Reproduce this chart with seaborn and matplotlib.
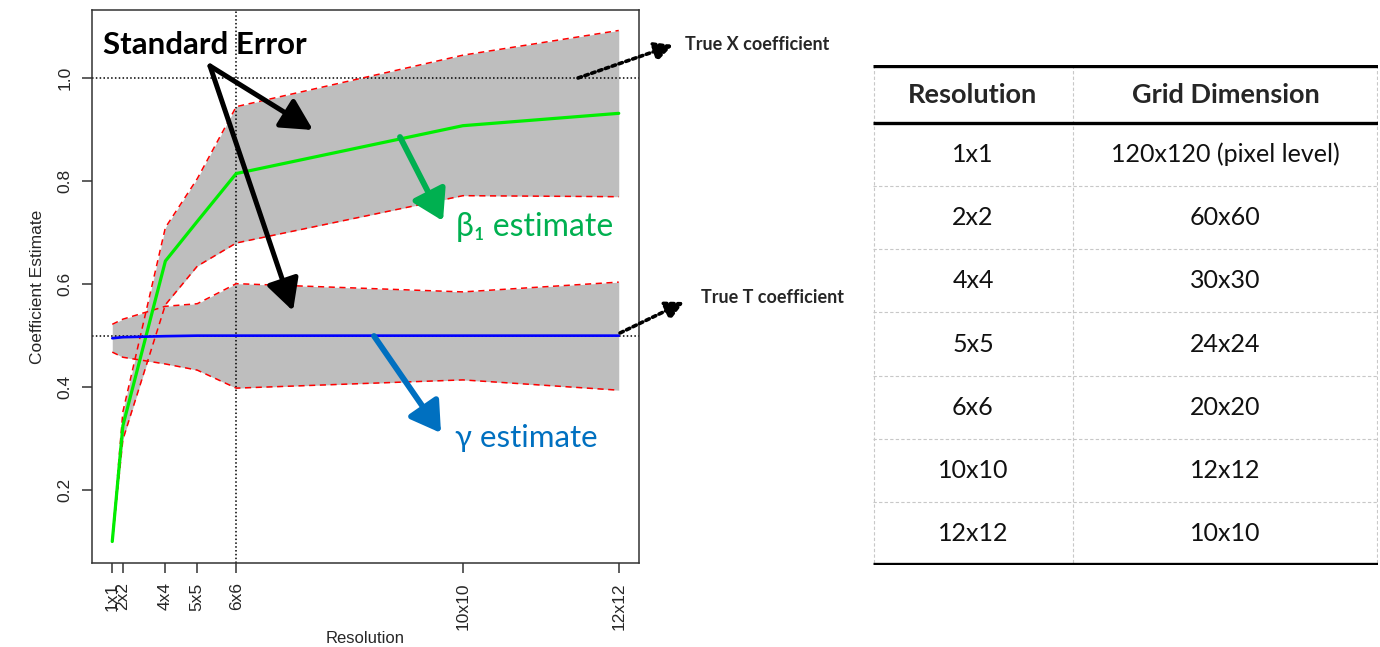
import numpy as np
import pandas as pd
import matplotlib
matplotlib.use("Agg")
import matplotlib.pyplot as plt
import seaborn as sns

# ---------------- data ----------------
res = [1, 2, 4, 5, 6, 10, 12]
res_labels = ["1x1", "2x2", "4x4", "5x5", "6x6", "10x10", "12x12"]
beta_est = [0.100, 0.325, 0.645, 0.722, 0.815, 0.908, 0.932]
beta_upper = [0.103, 0.352, 0.710, 0.805, 0.945, 1.045, 1.093]
beta_lower = [0.098, 0.298, 0.560, 0.635, 0.680, 0.772, 0.770]
gamma_est = [0.495, 0.497, 0.499, 0.500, 0.500, 0.500, 0.500]
gamma_upper = [0.522, 0.532, 0.557, 0.562, 0.601, 0.585, 0.604]
gamma_lower = [0.468, 0.458, 0.445, 0.433, 0.398, 0.414, 0.394]
true_x = 1.0
true_t = 0.5
marked_res = 6

table_header = ["Resolution", "Grid Dimension"]
table_res = ["1x1", "2x2", "4x4", "5x5", "6x6", "10x10", "12x12"]
table_grid = ["120x120 (pixel level)", "60x60", "30x30", "24x24", "20x20", "12x12", "10x10"]

# ---------------- style ----------------
sns.set_style("ticks")
plt.rcParams["font.family"] = ["Liberation Sans", "DejaVu Sans"]
plt.rcParams["axes.edgecolor"] = "#333333"
plt.rcParams["axes.linewidth"] = 1.1

W, H = 1380, 647
fig = plt.figure(figsize=(W / 100, H / 100), dpi=100)
fig.patch.set_facecolor("white")


def fp(x, y):
    return (x / W, 1 - y / H)


ax = fig.add_axes([92 / W, (H - 563) / H, (639 - 92) / W, (563 - 10) / H])

df = pd.DataFrame({
    "res": res,
    "beta": beta_est, "beta_hi": beta_upper, "beta_lo": beta_lower,
    "gamma": gamma_est, "gamma_hi": gamma_upper, "gamma_lo": gamma_lower,
})

grey = "#BEBEBE"
ax.fill_between(df["res"], df["beta_lo"], df["beta_hi"], color=grey, lw=0, zorder=1)
ax.fill_between(df["res"], df["gamma_lo"], df["gamma_hi"], color=grey, lw=0, zorder=1)

# reference lines
ax.axhline(true_x, color="black", ls=(0, (1, 1.5)), lw=1.1, zorder=2)
ax.axhline(true_t, color="black", ls=(0, (1, 1.5)), lw=1.1, zorder=2)
ax.axvline(marked_res, color="black", ls=(0, (1, 1.5)), lw=1.1, zorder=2)

for col in ["beta_hi", "beta_lo", "gamma_hi", "gamma_lo"]:
    sns.lineplot(data=df, x="res", y=col, color="#FF0000", lw=1.1,
                 linestyle=(0, (4, 3)), ax=ax, zorder=3, estimator=None, sort=False)
sns.lineplot(data=df, x="res", y="beta", color="#00EE00", lw=2.3, ax=ax,
             zorder=4, estimator=None, sort=False)
sns.lineplot(data=df, x="res", y="gamma", color="#0000FF", lw=1.9, ax=ax,
             zorder=4, estimator=None, sort=False)


def fwd(x):
    x = np.asarray(x, dtype=float)
    return np.sign(x) * x ** 2


def inv(y):
    y = np.asarray(y, dtype=float)
    return np.sign(y) * np.sqrt(np.abs(y))


ax.set_xscale("function", functions=(fwd, inv))
lo, hi = float(fwd(min(res))), float(fwd(max(res)))
pad = 0.04 * (hi - lo)
ax.set_xlim(float(inv(lo - pad)), float(inv(hi + pad)))
allv = beta_upper + beta_lower + gamma_upper + gamma_lower + beta_est + gamma_est
ymin, ymax = min(allv), max(allv)
ypad = 0.04 * (ymax - ymin)
ax.set_ylim(ymin - ypad, ymax + ypad)

ax.set_xticks(res)
ax.set_xticklabels(res_labels, rotation=90, fontsize=12.5)
ax.set_yticks([0.2, 0.4, 0.6, 0.8, 1.0])
ax.set_yticklabels(["0.2", "0.4", "0.6", "0.8", "1.0"], rotation=90, va="center", fontsize=12.5)
ax.minorticks_off()
ax.tick_params(axis="both", direction="out", length=7, width=1.1, color="#333333", pad=7)
ax.set_xlabel("Resolution", fontsize=12, labelpad=1)
ax.set_ylabel("Coefficient Estimate", fontsize=12.5, labelpad=9)
for sp in ax.spines.values():
    sp.set_visible(True)

# ---------------- annotations ----------------
cal = ["Lato", "DejaVu Sans"]
fig.text(*fp(103, 54), "Standard Error", fontsize=22.5, fontweight="bold",
         family=cal, color="black", va="baseline", ha="left")
for tip in [(313, 130), (293, 311)]:
    ax.annotate("", xy=fp(*tip), xytext=fp(210, 66), xycoords="figure fraction",
                textcoords="figure fraction", annotation_clip=False,
                arrowprops=dict(arrowstyle="-|>,head_length=0.95,head_width=0.5",
                                color="black", lw=3.6, mutation_scale=20,
                                shrinkA=0, shrinkB=0), zorder=6)

ax.annotate("", xy=fp(443, 221), xytext=fp(400, 137), xycoords="figure fraction",
            textcoords="figure fraction", annotation_clip=False,
            arrowprops=dict(arrowstyle="-|>,head_length=0.9,head_width=0.55",
                            color="#00B050", lw=4.2, mutation_scale=20,
                            shrinkA=0, shrinkB=0), zorder=6)
fig.text(*fp(456, 236), "β₁ estimate", fontsize=23, color="#00B050",
         family=["Lato", "Noto Sans", "DejaVu Sans"], va="baseline", ha="left")

ax.annotate("", xy=fp(441, 433), xytext=fp(374, 336), xycoords="figure fraction",
            textcoords="figure fraction", annotation_clip=False,
            arrowprops=dict(arrowstyle="-|>,head_length=0.9,head_width=0.55",
                            color="#0070C0", lw=4.2, mutation_scale=20,
                            shrinkA=0, shrinkB=0), zorder=6)
fig.text(*fp(455, 447), "γ estimate", fontsize=22.5, color="#0070C0",
         family=["Lato", "Noto Sans", "DejaVu Sans"], va="baseline", ha="left")

for start, tip, txtpos, label in [((578, 78), (673, 45), (685, 50), "True X coefficient"),
                                  ((620, 333), (684, 302), (701, 303), "True T coefficient")]:
    ax.annotate("", xy=fp(*tip), xytext=fp(*start), xycoords="figure fraction",
                textcoords="figure fraction", annotation_clip=False,
                arrowprops=dict(arrowstyle="-|>,head_length=0.55,head_width=0.28",
                                color="black", lw=2.6, ls=(0, (1, 1)),
                                mutation_scale=20, shrinkA=0, shrinkB=0), zorder=6)
    fig.text(*fp(*txtpos), label, fontsize=13, fontweight="bold", family=cal,
             va="baseline", ha="left")

# ---------------- table ----------------
tx0, tx1, ty0, ty1 = 873, 1378, 65, 565
tax = fig.add_axes([tx0 / W, (H - ty1) / H, (tx1 - tx0) / W, (ty1 - ty0) / H])
tax.set_xlim(0, 1)
tax.set_ylim(ty1 - ty0, 0)
tax.axis("off")
head_h = 58
n = len(table_res)
row_h = (ty1 - ty0 - head_h) / n
split = 0.396
cx = [split / 2, (split + 1) / 2]
light = "#C8C8C8"
for xv in [0.002, split, 0.998]:
    tax.plot([xv, xv], [0, ty1 - ty0], color=light, lw=0.8, ls=(0, (3, 2)))
for i in range(1, n):
    yy = head_h + i * row_h
    tax.plot([0, 1], [yy, yy], color=light, lw=0.8, ls=(0, (3, 2)))
for yy in [1, head_h, ty1 - ty0 - 1]:
    tax.plot([0, 1], [yy, yy], color="black", lw=2.4, solid_capstyle="butt")
for j, h in enumerate(table_header):
    tax.text(cx[j], head_h / 2 + 1, h, ha="center", va="center", fontsize=19.5,
             fontweight="bold", family=cal)
for i, (r, g) in enumerate(zip(table_res, table_grid)):
    yy = head_h + (i + 0.5) * row_h
    tax.text(cx[0], yy, r, ha="center", va="center", fontsize=18, family=cal, color="#111111")
    tax.text(cx[1], yy, g, ha="center", va="center", fontsize=18, family=cal, color="#111111")

fig.savefig("out.png", dpi=100, facecolor="white")
